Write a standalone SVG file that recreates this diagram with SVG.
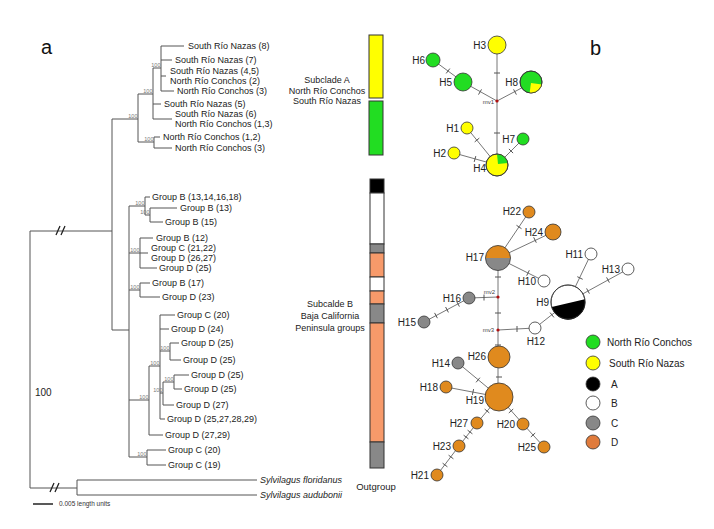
<svg xmlns="http://www.w3.org/2000/svg" width="714" height="529" viewBox="0 0 714 529">
<defs>
<style>
.tr{fill:none;stroke:#555;stroke-width:1}
.tx{font-family:"Liberation Sans",Arial,sans-serif;font-size:9px;fill:#222}
.bs{font-family:"Liberation Sans",Arial,sans-serif;font-size:5.5px;fill:#777;text-anchor:end}
.it{font-style:italic}
.sub{font-family:"Liberation Sans",Arial,sans-serif;font-size:9px;fill:#222;text-anchor:middle}
.ed{fill:none;stroke:#777;stroke-width:1}
.tk{fill:none;stroke:#555;stroke-width:1}
.nd{stroke:#333;stroke-width:0.8}
.hl{font-family:"Liberation Sans",Arial,sans-serif;font-size:10px;fill:#222;text-anchor:end}
.mv{font-family:"Liberation Sans",Arial,sans-serif;font-size:6px;fill:#444;text-anchor:end}
.lg{font-family:"Liberation Sans",Arial,sans-serif;font-size:10px;fill:#222}
.bar{stroke:#333;stroke-width:1}
.g{fill:#22dd22}.y{fill:#ffff00}.k{fill:#000}.w{fill:#fff}.c{fill:#888}.o{fill:#e08a1e}
</style>
</defs>
<rect width="714" height="529" fill="#fff"/>
<text x="41" y="54" font-family="Liberation Sans, Arial, sans-serif" font-size="20" fill="#111">a</text>
<text x="590" y="55" font-family="Liberation Sans, Arial, sans-serif" font-size="20" fill="#111">b</text>

<g id="tree">
<path class="tr" d="M161,46V91M161,46H184M161,60H172M161,76H166M161,91H174M153,68H161M153,68V119M153,104H161M153,119H172M154,137V148M154,137H160M154,148H172M138,94H153M138,142H154M138,94V142M112,119H138M112,119V330M112,330H129M30,231H112M30,231V488M30,488H77M77,480V495M77,480H257M77,495H257"/>
<path d="M56,235L60,226M61,235L65,226M50,492L54,483M55,492L59,483" stroke="#222" stroke-width="1.3" fill="none"/>
<path class="tr" d="M129,206V457M129,206H145M145,197V215M145,197H150M145,215H150M150,208V222M150,208H177M150,222H163M129,253H140M140,238V268M140,238H153M140,253H148M140,268H157M129,290H140M140,283V297M140,283H150M140,297H160M129,400H149M149,366V435M149,366H160M149,435H163M160,315V419M160,315H175M160,329H169M160,351H170M170,343V360M170,343H179M170,360H181M160,393H163M163,382V405M163,382H174M174,375V389M174,375H189M174,389H182M163,405H174M160,419H165M129,457H147M147,450V465M147,450H166M147,465H166"/>
<g class="tx">
<text x="188" y="49">South Río Nazas (8)</text>
<text x="175" y="63">South Río Nazas (7)</text>
<text x="170" y="74">South Río Nazas (4,5)</text>
<text x="170" y="84">North Río Conchos (2)</text>
<text x="177" y="94">North Río Conchos (3)</text>
<text x="164" y="107">South Río Nazas (5)</text>
<text x="175" y="117">South Río Nazas (6)</text>
<text x="175" y="127">North Río Conchos (1,3)</text>
<text x="163" y="140">North Río Conchos (1,2)</text>
<text x="175" y="151">North Río Conchos (3)</text>
<text x="152" y="200">Group B (13,14,16,18)</text>
<text x="180" y="211">Group B (13)</text>
<text x="165" y="225">Group B (15)</text>
<text x="156" y="241">Group B (12)</text>
<text x="151" y="251">Group C (21,22)</text>
<text x="151" y="261">Group D (26,27)</text>
<text x="159" y="271">Group D (25)</text>
<text x="152" y="286">Group B (17)</text>
<text x="162" y="300">Group D (23)</text>
<text x="177" y="318">Group C (20)</text>
<text x="171" y="332">Group D (24)</text>
<text x="181" y="346">Group D (25)</text>
<text x="183" y="363">Group D (25)</text>
<text x="191" y="378">Group D (25)</text>
<text x="184" y="392">Group D (25)</text>
<text x="176" y="408">Group D (27)</text>
<text x="167" y="422">Group D (25,27,28,29)</text>
<text x="165" y="438">Group D (27,29)</text>
<text x="168" y="453">Group C (20)</text>
<text x="168" y="468">Group C (19)</text>
<text x="260" y="483" class="it">Sylvilagus floridanus</text>
<text x="260" y="498" class="it">Sylvilagus audubonii</text>
</g>
<g>
<text class="bs" x="160.5" y="67">100</text>
<text class="bs" x="152.5" y="93">100</text>
<text class="bs" x="137.5" y="118">100</text>
<text class="bs" x="153.5" y="141">100</text>
<text class="bs" x="144.5" y="205">100</text>
<text class="bs" x="149.5" y="214">100</text>
<text class="bs" x="139.5" y="252">100</text>
<text class="bs" x="139.5" y="289">100</text>
<text class="bs" x="159.5" y="365">100</text>
<text class="bs" x="169.5" y="350">100</text>
<text class="bs" x="173.5" y="381">100</text>
<text class="bs" x="162.5" y="392">100</text>
<text class="bs" x="148.5" y="399">100</text>
<text class="bs" x="146.5" y="456">100</text>
</g>
<text x="35" y="396" font-family="Liberation Sans, Arial, sans-serif" font-size="10" fill="#222">100</text>
<path d="M33,504H53" stroke="#222" stroke-width="1.5"/>
<text x="59" y="506" font-family="Liberation Sans, Arial, sans-serif" font-size="6.5" fill="#333">0.005 length units</text>
</g>

<g id="bars">
<rect class="bar y" x="369" y="35" width="14" height="63"/>
<rect class="bar g" x="369" y="101" width="14" height="54"/>
<rect class="bar k" x="370" y="179" width="14" height="14"/>
<rect class="bar w" x="370" y="193" width="14" height="51"/>
<rect class="bar c" x="370" y="244" width="14" height="9"/>
<rect class="bar" fill="#f79a6a" x="370" y="253" width="14" height="24"/>
<rect class="bar w" x="370" y="277" width="14" height="14"/>
<rect class="bar" fill="#f79a6a" x="370" y="291" width="14" height="13"/>
<rect class="bar c" x="370" y="304" width="14" height="19"/>
<rect class="bar" fill="#f79a6a" x="370" y="323" width="14" height="119"/>
<rect class="bar c" x="370" y="442" width="14" height="26"/>
<text class="sub" x="327" y="83">Subclade A</text>
<text class="sub" x="327" y="94">North Río Conchos</text>
<text class="sub" x="327" y="104">South Río Nazas</text>
<text class="sub" x="330" y="307">Subcalde B</text>
<text class="sub" x="330" y="319">Baja California</text>
<text class="sub" x="330" y="331">Peninsula groups</text>
<text class="sub" x="376" y="490" style="font-size:9.5px">Outgroup</text>
</g>

<g id="connectors">
<path class="ed" d="M497,45V165M497,101L531,83M497,101L463,82M463,82L433,60M467,128L497,165M454,153L497,165M523,139L497,165"/>
<path class="tk" d="M494,73H500M513.6,89.4L516.4,94.6M478.5,94.6L481.5,89.4M446.2,73.4L449.8,68.6M494,133H500M474.7,141.9L479.3,138.1M474.2,161.9L475.8,156.1M508.9,148.9L513.1,153.1"/>
<path class="ed" d="M498,258L529,212M498,258L553,232M498,258L544,281M498,258V397M498,297L469,298M469,298L424,322M498,330L535,328M535,328L568,302M568,302L591,254M568,302L628,269M499,397L458,363M499,397L446,387M499,397L477,423M477,423L459,446M459,446L437,475M499,397L523,424M523,424L544,447"/>
<path class="tk" d="M516.5,225.3L521.5,228.7M533.7,237.3L536.3,242.7M529.3,270.3L526.7,275.7M495,277H501M484,294.5V300.5M456.6,301.3L459.4,306.6M445.6,307L448.4,312.4M434.6,312.9L437.4,318.2M495,313H501M517,326V332M550.1,312.6L553.9,317.4M577.3,276.7L582.7,279.3M586.6,288.4L589.4,293.6M606.6,277.4L609.4,282.6M495,345H501M496,377H502M476.1,382.3L479.9,377.7M472.4,394.9L473.6,389.1M484.7,409.1L489.3,412.9M463.6,435.2L468.4,438.8M467.6,430.2L472.4,433.8M442.6,463.2L447.4,466.8M448.6,455.2L453.4,458.8M508.8,413L513.2,409M530.8,437L535.2,433"/>
<g fill="#b01010"><circle cx="497" cy="101" r="1.6"/><circle cx="498" cy="297" r="1.6"/><circle cx="498" cy="330" r="1.6"/></g>
<text class="mv" x="494" y="104">mv1</text>
<text class="mv" x="495" y="294">mv2</text>
<text class="mv" x="494" y="332">mv3</text>
</g>

<g id="H3"><circle class="nd y" cx="497" cy="45" r="9"/><text class="hl" x="486" y="49">H3</text></g>
<g id="H6"><circle class="nd g" cx="433" cy="60" r="7"/><text class="hl" x="425" y="64">H6</text></g>
<g id="H5"><circle class="nd g" cx="463" cy="82" r="9"/><text class="hl" x="452" y="86">H5</text></g>
<g id="H8"><circle class="nd g" cx="531" cy="82" r="11"/><path class="y" d="M531,83L541.9,84.5A11,11 0 0 1 529.6,92.9Z"/><circle cx="531" cy="82" r="11" fill="none" stroke="#333" stroke-width="0.8"/><text class="hl" x="518" y="86">H8</text></g>
<g id="H1"><circle class="nd y" cx="467" cy="128" r="6"/><text class="hl" x="459" y="132">H1</text></g>
<g id="H7"><circle class="nd g" cx="523" cy="139" r="6"/><text class="hl" x="515" y="143">H7</text></g>
<g id="H2"><circle class="nd y" cx="454" cy="153" r="6"/><text class="hl" x="446" y="157">H2</text></g>
<g id="H4"><circle class="nd y" cx="497" cy="165" r="11"/><path class="g" d="M498,164L497,154A11,11 0 0 1 507.8,162.9Z"/><circle cx="497" cy="165" r="11" fill="none" stroke="#333" stroke-width="0.8"/><text class="hl" x="486" y="172">H4</text></g>

<g id="H22"><circle class="nd o" cx="529" cy="212" r="6"/><text class="hl" x="521" y="215">H22</text></g>
<g id="H24"><circle class="nd o" cx="553" cy="232" r="8"/><text class="hl" x="543" y="236">H24</text></g>
<g id="H17"><path class="c" d="M485.5,258A12.5,12.5 0 0 0 510.5,258Z"/><path class="o" d="M485.5,258A12.5,12.5 0 0 1 510.5,258Z"/><circle cx="498" cy="258" r="12.5" fill="none" stroke="#333" stroke-width="0.8"/><text class="hl" x="484" y="261">H17</text></g>
<g id="H10"><circle class="nd w" cx="544" cy="281" r="6"/><text class="hl" x="536" y="285">H10</text></g>
<g id="H16"><circle class="nd c" cx="469" cy="298" r="6"/><text class="hl" x="461" y="302">H16</text></g>
<g id="H15"><circle class="nd c" cx="424" cy="322" r="6"/><text class="hl" x="416" y="326">H15</text></g>
<g id="H11"><circle class="nd w" cx="591" cy="254" r="6"/><text class="hl" x="583" y="258">H11</text></g>
<g id="H13"><circle class="nd w" cx="628" cy="269" r="6"/><text class="hl" x="620" y="273">H13</text></g>
<g id="H9"><circle class="nd w" cx="568" cy="302" r="17"/><path class="k" d="M584.8,299.3A17,17 0 0 1 551.7,307Z"/><circle cx="568" cy="302" r="17" fill="none" stroke="#333" stroke-width="0.8"/><text class="hl" x="549" y="306">H9</text></g>
<g id="H12"><circle class="nd w" cx="535" cy="328" r="6"/><text class="hl" x="545" y="345">H12</text></g>
<g id="H26"><circle class="nd o" cx="499" cy="357" r="11"/><text class="hl" x="486" y="360">H26</text></g>
<g id="H14"><circle class="nd c" cx="458" cy="363" r="6"/><text class="hl" x="450" y="367">H14</text></g>
<g id="H18"><circle class="nd o" cx="446" cy="387" r="6"/><text class="hl" x="438" y="391">H18</text></g>
<g id="H19"><circle class="nd o" cx="499" cy="397" r="14"/><text class="hl" x="484" y="404">H19</text></g>
<g id="H27"><circle class="nd o" cx="477" cy="423" r="6"/><text class="hl" x="468" y="427">H27</text></g>
<g id="H20"><circle class="nd o" cx="523" cy="424" r="6"/><text class="hl" x="515" y="428">H20</text></g>
<g id="H23"><circle class="nd o" cx="459" cy="446" r="6"/><text class="hl" x="451" y="450">H23</text></g>
<g id="H25"><circle class="nd o" cx="544" cy="447" r="6"/><text class="hl" x="536" y="451">H25</text></g>
<g id="H21"><circle class="nd o" cx="437" cy="475" r="6"/><text class="hl" x="429" y="479">H21</text></g>

<g id="legend">
<circle class="nd g" cx="593" cy="342" r="7"/><text class="lg" x="607" y="346">North Río Conchos</text>
<circle class="nd y" cx="593" cy="363" r="7"/><text class="lg" x="609" y="367">South Río Nazas</text>
<circle class="nd k" cx="593" cy="384" r="7"/><text class="lg" x="611" y="388">A</text>
<circle class="nd w" cx="593" cy="403" r="7"/><text class="lg" x="611" y="407">B</text>
<circle class="nd c" cx="593" cy="423" r="7"/><text class="lg" x="611" y="427">C</text>
<circle class="nd" fill="#e07b3c" cx="593" cy="442" r="7"/><text class="lg" x="611" y="446">D</text>
</g>
</svg>
